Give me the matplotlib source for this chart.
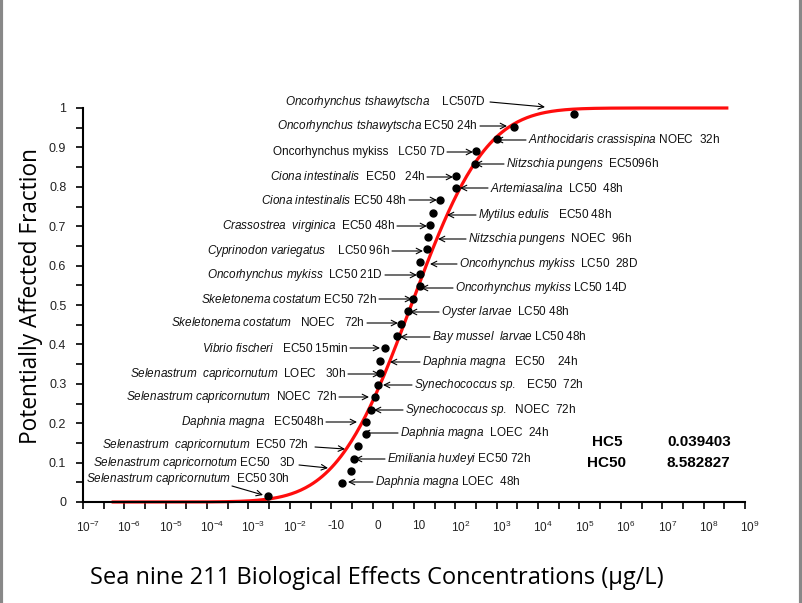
import math
import numpy as np
import matplotlib
matplotlib.use("Agg")
import matplotlib.pyplot as plt
from matplotlib.lines import Line2D
from matplotlib.transforms import ScaledTranslation

# ---- data ----
hc5 = 0.039403
hc50 = 8.582827

conc = [0.0029, 0.179, 0.295, 0.355, 0.451, 0.673, 0.673, 0.897, 1.17, 1.33,
        1.51, 1.51, 1.94, 3.99, 4.85, 7.16, 9.62, 14.0, 14.0, 14.2,
        20.6, 21.8, 24.4, 29.2, 42.5, 101, 104, 293, 315, 998,
        2610, 73600]
fraction = [0.016, 0.047, 0.078, 0.109, 0.141, 0.172, 0.203, 0.234, 0.266, 0.297,
            0.328, 0.359, 0.391, 0.422, 0.453, 0.484, 0.516, 0.547, 0.578, 0.609,
            0.641, 0.672, 0.703, 0.734, 0.766, 0.797, 0.828, 0.859, 0.891, 0.922,
            0.953, 0.984]

x_ticks = [1e-7, 1e-6, 1e-5, 1e-4, 1e-3, 1e-2, 1e-1, 1e0, 1e1,
           1e2, 1e3, 1e4, 1e5, 1e6, 1e7, 1e8, 1e9]
x_ticklabels = ['$10^{-7}$', '$10^{-6}$', '$10^{-5}$', '$10^{-4}$', '$10^{-3}$',
                '$10^{-2}$', '-10', '0', '10', '$10^{2}$', '$10^{3}$', '$10^{4}$',
                '$10^{5}$', '$10^{6}$', '$10^{7}$', '$10^{8}$', '$10^{9}$']
y_ticks = [0, 0.1, 0.2, 0.3, 0.4, 0.5, 0.6, 0.7, 0.8, 0.9, 1]
y_ticklabels = ['0', '0.1', '0.2', '0.3', '0.4', '0.5', '0.6', '0.7', '0.8', '0.9', '1']

# labels on the left of the curve: (italic part, plain part)
left_species = [
    ('Oncorhynchus tshawytscha', '    LC507D'),
    ('Oncorhynchus tshawytscha', ' EC50 24h'),
    ('', 'Oncorhynchus mykiss   LC50 7D'),
    ('Ciona intestinalis', '  EC50   24h'),
    ('Ciona intestinalis', ' EC50 48h'),
    ('Crassostrea  virginica', '  EC50 48h'),
    ('Cyprinodon variegatus', '    LC50 96h'),
    ('Oncorhynchus mykiss', '  LC50 21D'),
    ('Skeletonema costatum', ' EC50 72h'),
    ('Skeletonema costatum', '   NOEC   72h'),
    ('Vibrio fischeri', '   EC50 15min'),
    ('Selenastrum  capricornutum', '  LOEC   30h'),
    ('Selenastrum capricornutum', '  NOEC  72h'),
    ('Daphnia magna', '   EC5048h'),
    ('Selenastrum  capricornutum', '  EC50 72h'),
    ('Selenastrum capricornotum', ' EC50   3D'),
    ('Selenastrum capricornutum', '  EC50 30h'),
]
right_species = [
    ('Anthocidaris crassispina', ' NOEC  32h'),
    ('Nitzschia pungens', '  EC5096h'),
    ('Artemiasalina', '  LC50  48h'),
    ('Mytilus edulis', '   EC50 48h'),
    ('Nitzschia pungens', '  NOEC  96h'),
    ('Oncorhynchus mykiss', '  LC50  28D'),
    ('Oncorhynchus mykiss', ' LC50 14D'),
    ('Oyster larvae', '  LC50 48h'),
    ('Bay mussel  larvae', ' LC50 48h'),
    ('Daphnia magna', '   EC50    24h'),
    ('Synechococcus sp.', '   EC50  72h'),
    ('Synechococcus sp.', '  NOEC  72h'),
    ('Daphnia magna', '  LOEC  24h'),
    ('Emiliania huxleyi', ' EC50 72h'),
    ('Daphnia magna', ' LOEC  48h'),
]

# label layout in figure pixels from the top-left: text end/start, text y, arrow tail, arrow head
left_layout = [
    (485, 102, (490, 102), (545, 107)),
    (478, 126, (480, 126), (507, 126)),
    (445, 152, (447, 152), (473, 152)),
    (425, 177, (427, 177), (453, 177)),
    (407, 200, (409, 200), (437, 200)),
    (395, 226, (397, 226), (427, 226)),
    (390, 251, (392, 251), (423, 251)),
    (383, 275, (385, 275), (417, 275)),
    (377, 299, (379, 299), (412, 299)),
    (365, 323, (367, 323), (398, 323)),
    (348, 348, (350, 348), (380, 348)),
    (346, 374, (348, 374), (380, 374)),
    (337, 397, (339, 397), (369, 397)),
    (324, 422, (326, 422), (357, 422)),
    (309, 445, (315, 447), (345, 449)),
    (296, 463, (299, 465), (328, 468)),
    (290, 479, (232, 486), (263, 495)),
]
right_layout = [
    (526, 140, 496), (504, 164, 475), (488, 188, 460), (476, 215, 447),
    (466, 239, 438), (457, 264, 430), (453, 288, 421), (439, 312, 410),
    (430, 337, 400), (420, 362, 390), (412, 385, 383), (403, 410, 374),
    (398, 433, 363), (385, 459, 355), (373, 482, 348),
]

W, H = 803, 603

plt.rcParams['mathtext.fontset'] = 'custom'
plt.rcParams['mathtext.rm'] = 'Liberation Sans'
plt.rcParams['mathtext.it'] = 'Liberation Sans:italic'
plt.rcParams['mathtext.bf'] = 'Liberation Sans:bold'

fig = plt.figure(figsize=(W / 100, H / 100), dpi=100)
ax = fig.add_axes([83 / W, 1 - 502 / H, (745 - 83) / W, (502 - 108) / H])

# fitted log-normal SSD curve
mu = math.log10(hc50)
sigma = (mu - math.log10(hc5)) / 1.6449
lx = np.linspace(-6.27, 8.56, 400)
cdf = [0.5 * (1 + math.erf((v - mu) / (sigma * math.sqrt(2)))) for v in lx]
ax.plot(10 ** lx, cdf, color='#ff0d0d', lw=2.3, zorder=2, clip_on=False)

ax.plot(conc, fraction, 'o', color='black', ms=5, zorder=3, clip_on=False)

ax.set_xscale('log')
ax.set_xlim(1e-7, 1e9)
ax.set_ylim(0, 1)
ax.set_xticks(x_ticks)
ax.set_xticklabels(x_ticklabels, fontsize=8.5, family='Liberation Sans', color='#222222')
ax.set_xticks([10 ** (k + 0.5) for k in range(-7, 9)], minor=True)
ax.xaxis.set_minor_formatter(plt.NullFormatter())
ax.set_yticks(y_ticks)
ax.set_yticklabels(y_ticklabels, fontsize=9, family='Liberation Sans', color='#222222')
ax.set_yticks([v + 0.05 for v in y_ticks[:-1]], minor=True)
ax.tick_params(axis='both', which='both', direction='out', length=5, width=1.2, color='black')
ax.tick_params(axis='x', pad=8)
ax.tick_params(axis='y', pad=7)
for lab in ax.get_xticklabels():
    lab.set_transform(lab.get_transform() + ScaledTranslation(5 / 100, 0, fig.dpi_scale_trans))

for s in ['top', 'right']:
    ax.spines[s].set_visible(False)
for s in ['left', 'bottom']:
    ax.spines[s].set_linewidth(1.5)

fig.text(31 / W, 1 - 296 / H, 'Potentially Affected Fraction', rotation=90,
         ha='center', va='center', fontsize=16.3, family='Open Sans')
fig.text(90 / W, 1 - 578 / H, 'Sea nine 211 Biological Effects Concentrations (\u00b5g/L)',
         ha='left', va='center', fontsize=17, family='Open Sans')


def mixed(it, rest):
    if not it:
        return rest
    return r'$\mathit{' + it.replace(' ', r'\ ') + '}$' + rest


arrow = dict(arrowstyle='->', lw=0.8, color='black', shrinkA=0, shrinkB=0,
             mutation_scale=10)
for (it, rest), (xe, ty, tail, head) in zip(left_species, left_layout):
    fig.text(xe / W, 1 - ty / H, mixed(it, rest), ha='right', va='center',
             fontsize=8.5, family='Liberation Sans', color='#111111')
    ax.annotate('', xy=(head[0], H - head[1]), xytext=(tail[0], H - tail[1]),
                xycoords='figure pixels', textcoords='figure pixels', arrowprops=arrow)

for (it, rest), (xs, ty, hx) in zip(right_species, right_layout):
    fig.text((xs + 2) / W, 1 - ty / H, mixed(it, rest), ha='left', va='center',
             fontsize=8.5, family='Liberation Sans', color='#111111')
    ax.annotate('', xy=(hx, H - ty), xytext=(xs, H - ty),
                xycoords='figure pixels', textcoords='figure pixels', arrowprops=arrow)

# HC values
for name, val, ty in [('HC5', hc5, 442), ('HC50', hc50, 463)]:
    fig.text(607 / W, 1 - ty / H, name, ha='center', va='center', fontsize=11,
             family='Liberation Sans', weight='bold')
    fig.text(667 / W, 1 - ty / H, f'{val:.6f}', ha='left', va='center', fontsize=11,
             family='Liberation Sans', weight='bold')

# grey frame on the sides
fig.add_artist(Line2D([1.5 / W, 1.5 / W], [0, 1], color='#888888', lw=3))
fig.add_artist(Line2D([1 - 2 / W, 1 - 2 / W], [0, 1], color='#888888', lw=3))

fig.savefig('out.png', dpi=100)
